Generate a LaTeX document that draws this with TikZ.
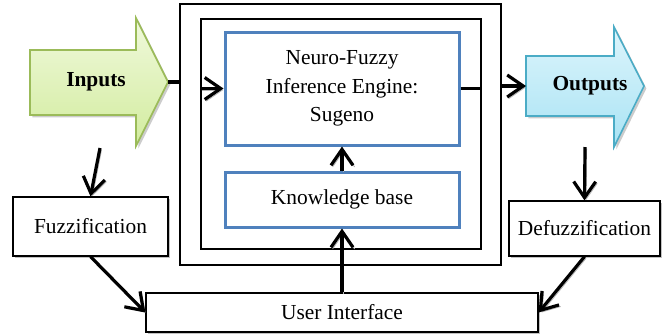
\documentclass[tikz,border=0pt]{standalone}
\usepackage{fontspec}
\setmainfont{Liberation Serif}
\usetikzlibrary{arrows.meta,shadows}

\definecolor{inlight}{HTML}{F0F9DC}
\definecolor{indark}{HTML}{D2EC9E}
\definecolor{inedge}{HTML}{9BBB59}
\definecolor{outlight}{HTML}{DDF5FC}
\definecolor{outdark}{HTML}{A9E3F4}
\definecolor{outedge}{HTML}{4BACC6}
\definecolor{engblue}{HTML}{4F81BD}

\tikzset{
  every node/.style={font=\fontsize{10.7}{14.2}\selectfont},
  frame/.style={draw, line width=1pt, inner sep=0pt},
  bluebox/.style={draw=engblue, line width=1.5pt, align=center, inner sep=0pt},
  plainbox/.style={draw, line width=0.6pt, fill=white, inner sep=0pt,
    drop shadow={shadow xshift=1pt, shadow yshift=-1pt, fill=black!40, opacity=0.6}},
  flow/.style={line width=1.6pt, -{Straight Barb[length=8pt,width=11pt,line width=1.6pt]},
    preaction={draw=black!30, transform canvas={shift={(0.8pt,-0.8pt)}}}},
  link/.style={line width=1.6pt},
  blockarrow/.style={line width=0.8pt,
    drop shadow={shadow xshift=1.2pt, shadow yshift=-1.2pt, fill=black!40, opacity=0.5}}
}

\begin{document}
\begin{tikzpicture}[x=0.5pt, y=-0.5pt]
  \useasboundingbox (0,0) rectangle (662,333);

  % The two frames round the engine
  \node[frame, minimum width=160.5pt, minimum height=130.5pt] (outer) at (340.5,134.5) {};
  \node[frame, minimum width=140pt, minimum height=115pt] (inner) at (341,134) {};

  % Engine and knowledge base
  \node[bluebox, minimum width=117pt, minimum height=56.5pt] (engine) at (342,88.5)
    {Neuro-Fuzzy\\Inference Engine:\\Sugeno};
  \node[bluebox, minimum width=117pt, minimum height=27.5pt] (kb) at (342,199.5) {Knowledge base};

  % Inputs and Outputs
  \draw[blockarrow, draw=inedge, top color=inlight, bottom color=indark]
    (30,50) -- (136,50) -- (136,18) -- (168,82) -- (136,146) -- (136,115) -- (30,115) -- cycle;
  \node (inputs) at (96,82) {\textbf{Inputs}};
  \coordinate (intip) at (168,82);
  \coordinate (indown) at (100,148);

  \draw[blockarrow, draw=outedge, top color=outlight, bottom color=outdark]
    (526,56) -- (614,56) -- (614,27) -- (644,86) -- (614,147) -- (614,116) -- (526,116) -- cycle;
  \node (outputs) at (590,86) {\textbf{Outputs}};
  \coordinate (outtail) at (526,86);
  \coordinate (outdown) at (585,147);

  % Fuzzification, Defuzzification, User Interface
  \node[plainbox, minimum width=77.5pt, minimum height=29.5pt] (fuzz) at (90.5,226.5) {Fuzzification};
  \node[plainbox, minimum width=75.5pt, minimum height=27.5pt] (defuzz) at (584.5,228.5) {Defuzzification};
  \node[plainbox, minimum width=196pt, minimum height=19.5pt] (ui) at (342,312.5) {User Interface};

  % Connectors
  \draw[link] (intip) -- (intip -| outer.west);
  \draw[flow] (engine.west -| inner.west) -- (engine.west);
  \draw[link] (engine.east) -- (engine.east -| inner.east);
  \draw[flow] (outer.east |- outtail) -- (outtail);
  \draw[flow] (kb.north) -- (engine.south);
  \draw[flow] (ui.north) -- (kb.south);
  \draw[flow] (indown) -- (fuzz.north);
  \draw[flow] (fuzz.south) -- (ui.west);
  \draw[flow] (outdown) -- (defuzz.north);
  \draw[flow] (defuzz.south) -- (ui.east);
\end{tikzpicture}
\end{document}
